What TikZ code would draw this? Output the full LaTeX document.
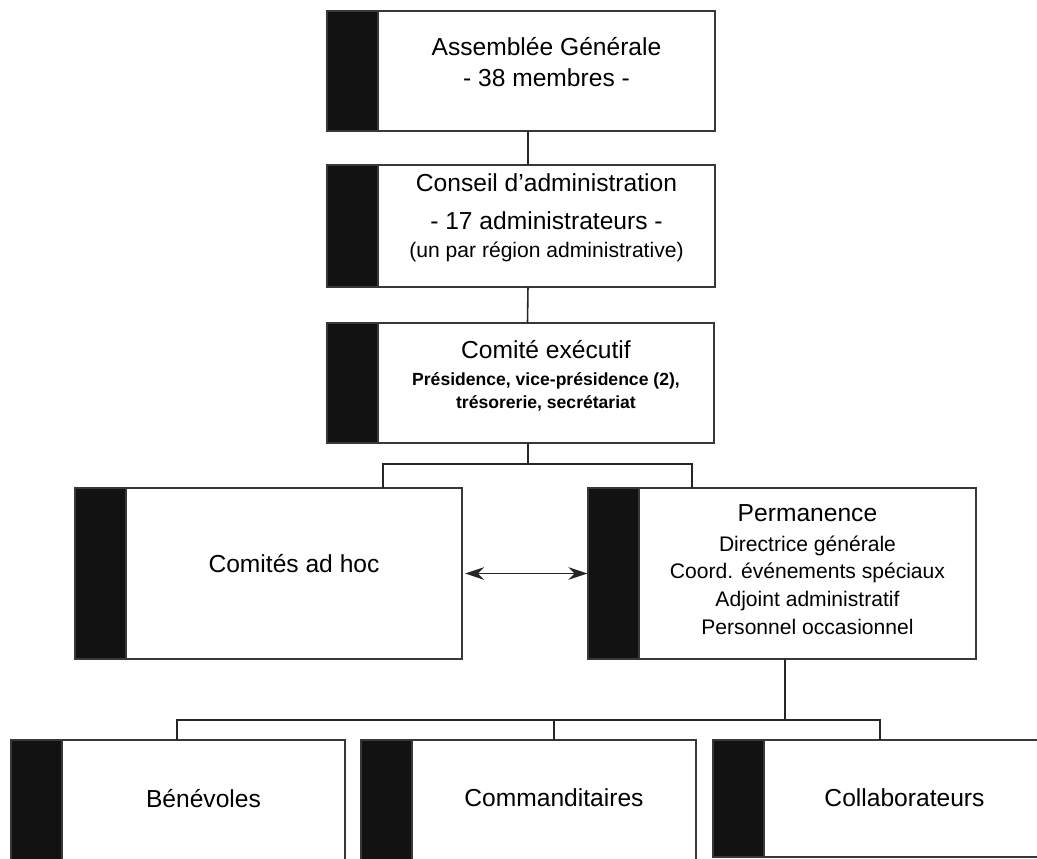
\documentclass[tikz,border=0pt]{standalone}
\usepackage{fontspec}
\setmainfont{Liberation Sans}
\usetikzlibrary{positioning,arrows.meta}

\newcommand{\orgsub}[1]{{\fontsize{6}{7}\selectfont #1}}
\newcommand{\orgbold}[1]{{\fontsize{5}{6}\selectfont\bfseries #1}}

\tikzset{
    bar/.style={draw=black!78, fill=black!93, line width=0.55pt, inner sep=0pt, outer sep=0pt, minimum width=5.1mm},
    unit/.style 2 args={draw=black!78, fill=white, line width=0.55pt, inner sep=0pt, outer sep=0pt,
        anchor=north west, align=center, minimum width=#1, minimum height=#2,
        font=\fontsize{7}{8.4}\selectfont, label={[bar, minimum height=#2]left:{}}},
    link/.style={draw=black!85, line width=0.45pt},
    twoway/.style={<->, >={Stealth[length=1.9mm, width=1.25mm, inset=0.6mm]}}
}

\begin{document}
\begin{tikzpicture}[x=0.1mm, y=-0.1mm]
    \fill[white] (0,0) rectangle (1037,859);
    \useasboundingbox (0,0) rectangle (1037,859);
    \clip (0,0) rectangle (1037,859);

    \node (ag) [unit={33.7mm}{12mm}, text depth=5.4pt, font=\fontsize{7}{8.8}\selectfont] at (378,11)
        {Assemblée Générale\\- 38 membres -};
    \node (ca) [unit={33.7mm}{12.2mm}, text depth=6pt, font=\fontsize{7}{7.7}\selectfont] at (378,165)
        {Conseil d’administration\\[3.2pt]- 17 administrateurs -\\\orgsub{(un par région administrative)}};
    \node (ce) [unit={33.6mm}{12mm}, text depth=4.8pt, font=\fontsize{7}{6.5}\selectfont] at (378,323)
        {Comité exécutif\\[1.2pt]\orgbold{Présidence, vice-présidence (2),}\\\orgbold{trésorerie, secrétariat}};

    \node (adhoc) [unit={33.6mm}{17.1mm}, text depth=5.6pt] at (126,488) {Comités ad hoc};
    \node (perm) [unit={33.7mm}{17.1mm}, text depth=2.3pt, font=\fontsize{7}{7.9}\selectfont] at (639,488)
        {Permanence\\[0.6pt]\orgsub{Directrice générale}\\\orgsub{Coord. événements spéciaux}\\
         \orgsub{Adjoint administratif}\\\orgsub{Personnel occasionnel}};

    \node (ben) [unit={28.3mm}{13mm}, text depth=4pt] at (62,740) {Bénévoles};
    \node (com) [unit={28.4mm}{13mm}, text depth=4pt] at (412,740) {Commanditaires};
    \node (col) [unit={28.1mm}{11.7mm}, text depth=0.3pt] at (764,740) {Collaborateurs};

    \coordinate (split1) at (528,464);
    \coordinate (split2) at (785,720);

    \draw[link] ([xshift=-1.85mm]ag.south) -- ([xshift=-1.85mm]ca.north);
    \draw[link] ([xshift=-1.85mm]ca.south) -- ([xshift=-1.85mm]ce.north);
    \draw[link] (split1 |- ce.south) -- (split1);
    \draw[link] ([xshift=8.9mm]adhoc.north) |- (split1) -| ([xshift=-11.55mm]perm.north);
    \draw[link, twoway, line width=0.5pt] ([xshift=0.3mm]adhoc.east) -- ([xshift=-5.15mm]perm.west);

    \draw[link] (split2 |- perm.south) -- (split2);
    \draw[link] ([xshift=-2.65mm]ben.north) |- (split2) -| ([xshift=-2.45mm]col.north);
    \draw[link] (com.north) -- (com.north |- split2);
\end{tikzpicture}
\end{document}
